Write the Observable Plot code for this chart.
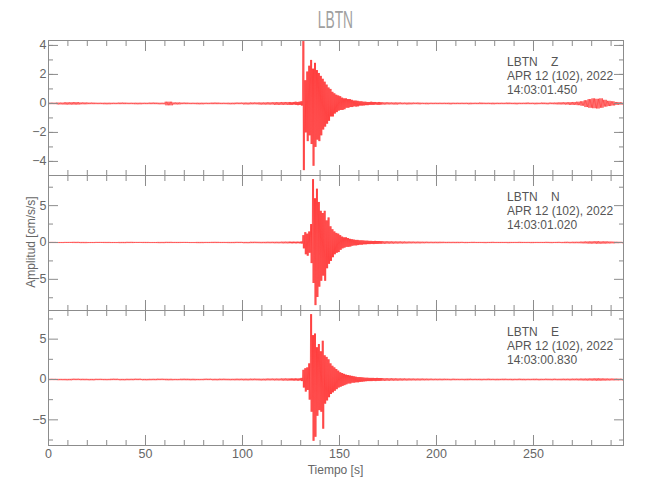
<!DOCTYPE html>
<html>
<head>
<meta charset="utf-8">
<script src="https://cdn.jsdelivr.net/npm/d3@7"></script>
<script src="https://cdn.jsdelivr.net/npm/@observablehq/plot@0.6"></script>
<style>
  body { margin: 0; background: #fff; }
  #chart { position: relative; width: 650px; height: 500px; background: #fff;
           font-family: "Liberation Sans", Arial, sans-serif; }
  .panel { position: absolute; left: 0; }
  .panel svg { overflow: visible; }
  .panel text { white-space: pre; }
  #title { position: absolute; left: 48px; width: 575px; top: 9px; text-align: center;
           font-size: 23px; line-height: 23px; color: #a0a0a0; font-weight: 300; }
  #title span { display: inline-block; transform: scaleX(0.6); }
  #xlabel { position: absolute; left: 48px; width: 575px; top: 462px; text-align: center;
            font-size: 12px; line-height: 16px; color: #666; }
  #ylabel { position: absolute; left: 31px; top: 242px; transform: translate(-50%, -50%) rotate(-90deg);
            white-space: nowrap; font-size: 12px; line-height: 14px; color: #666; }
</style>
</head>
<body>
<div id="chart">
  <div id="title"><span></span></div>
  <div id="xlabel"></div>
  <div id="ylabel"></div>
</div>
<script>
// ---------- text ----------
const title = "LBTN";
const xLabel = "Tiempo [s]";
const yLabel = "Amplitud [cm/s/s]";
const zInfo = ["LBTN    Z", "APR 12 (102), 2022", "14:03:01.450"];
const nInfo = ["LBTN    N", "APR 12 (102), 2022", "14:03:01.020"];
const eInfo = ["LBTN    E", "APR 12 (102), 2022", "14:03:00.830"];

// ---------- axes ----------
const xMax = 296.4;
const xTicks = [0, 50, 100, 150, 200, 250];
const xMinorTicks = d3.range(0, 300, 10);
const zDomain = [-4.97, 4.34];
const nDomain = [-9.23, 9.09];
const eDomain = [-8.18, 8.55];
const zTicks = [-4, -2, 0, 2, 4];
const zMinorTicks = [-4, -3, -2, -1, 0, 1, 2, 3, 4];
const neTicks = [-5, 0, 5];
const neMinorTicks = [-7.5, -2.5, 2.5, 7.5];

// ---------- time bins (s): 4 s before the event, 1 s around it, 2 s after ----------
const binStarts = [...d3.range(0, 124, 4), ...d3.range(124, 172, 1), ...d3.range(172, 296, 2)];
const traceEnd = 296;
const cyclesPerSecond = 1.5; // drawing density of the oscillation inside each bin

// ---------- per-bin peak (hi) and trough (lo) amplitudes, cm/s/s ----------
const zHi = [
  0.05,0.06,0.08,0.09,0.07,0.06,0.05,0.05,0.05,0.06,0.05,0.05,0.05,0.06,0.05,0.12,0.07,0.06,0.05,0.05,0.05,0.06,0.05,0.05,0.06,0.06,0.07,0.07,0.08,0.09,0.1,
  0.1,0.08,0.1,0.12,0.1,0.12,0.15,
  4.3,1.6,2.2,2.6,3.0,2.4,2.8,2.3,2.1,1.9,
  1.7,1.5,1.3,1.1,1.0,0.8,0.7,0.6,0.55,0.5,
  0.4,0.35,0.35,0.3,0.3,0.25,0.2,0.2,0.18,0.15,
  0.15,0.12,0.12,0.1,0.1,0.12,0.1,0.1,0.08,0.1,0.08,
  .08,.08,.07,.07,.07,.06,.06,.06,.06,.06,
  .05,.05,.05,.05,.05,.05,.05,.05,.05,.05,
  .05,.05,.05,.05,.05,.06,.05,.05,.05,.05,
  .05,.05,.06,.05,.05,.05,.05,.06,.05,.05,
  .05,.06,.05,.06,.06,.07,.08,.08,.09,.1,
  .12,.15,.22,.3,.35,.32,.35,.25,.18,.15,.1,.08
];
const zLo = [
  -0.05,-0.07,-0.08,-0.08,-0.06,-0.05,-0.05,-0.06,-0.05,-0.05,-0.05,-0.06,-0.05,-0.05,-0.06,-0.13,-0.07,-0.05,-0.05,-0.06,-0.05,-0.05,-0.05,-0.06,-0.05,-0.07,-0.06,-0.08,-0.08,-0.1,-0.1,
  -0.1,-0.1,-0.08,-0.1,-0.12,-0.1,-0.15,
  -4.6,-2.0,-2.6,-2.2,-2.8,-4.3,-3.0,-2.5,-2.6,-2.2,
  -1.8,-1.6,-1.4,-1.2,-0.9,-0.9,-0.7,-0.6,-0.5,-0.45,
  -0.45,-0.4,-0.3,-0.3,-0.25,-0.25,-0.2,-0.22,-0.2,-0.15,
  -0.15,-0.14,-0.12,-0.12,-0.1,-0.1,-0.1,-0.08,-0.1,-0.1,-0.08,
  -.08,-.07,-.07,-.08,-.06,-.06,-.07,-.06,-.05,-.06,
  -.05,-.06,-.05,-.05,-.05,-.05,-.05,-.06,-.05,-.05,
  -.05,-.05,-.06,-.05,-.05,-.05,-.05,-.05,-.06,-.05,
  -.05,-.05,-.05,-.05,-.06,-.05,-.05,-.05,-.05,-.06,
  -.05,-.05,-.06,-.05,-.06,-.07,-.07,-.08,-.1,-.1,
  -.12,-.16,-.25,-.3,-.33,-.35,-.3,-.22,-.18,-.14,-.1,-.08
];
const nHi = [
  0.08,0.07,0.08,0.09,0.08,0.07,0.08,0.08,0.07,0.08,0.09,0.08,0.08,0.07,0.08,0.09,0.08,0.08,0.07,0.08,0.08,0.09,0.08,0.08,0.09,0.08,0.1,0.09,0.1,0.1,0.12,
  0.12,0.1,0.12,0.1,0.12,0.1,0.15,
  1.0,1.4,1.2,1.5,2.5,8.6,6.0,7.3,5.5,4.3,
  4.0,4.3,3.0,3.4,2.2,1.8,1.5,1.3,1.2,1.0,
  0.8,0.7,0.7,0.6,0.5,0.45,0.4,0.35,0.35,0.3,
  0.3,0.28,0.25,0.25,0.22,0.22,0.2,0.22,0.2,0.2,0.18,
  .18,.17,.16,.15,.15,.14,.13,.13,.12,.12,
  .11,.11,.1,.1,.1,.1,.09,.09,.09,.09,
  .09,.08,.08,.09,.08,.08,.08,.08,.09,.08,
  .08,.08,.08,.08,.08,.09,.08,.08,.08,.08,
  .08,.08,.09,.08,.08,.09,.08,.1,.09,.1,
  .1,.12,.14,.15,.16,.18,.15,.16,.14,.12,.1,.09
];
const nLo = [
  -0.08,-0.08,-0.07,-0.08,-0.09,-0.08,-0.07,-0.08,-0.08,-0.09,-0.08,-0.07,-0.08,-0.08,-0.09,-0.08,-0.08,-0.07,-0.08,-0.09,-0.08,-0.08,-0.08,-0.09,-0.08,-0.1,-0.09,-0.1,-0.1,-0.11,-0.12,
  -0.1,-0.12,-0.1,-0.12,-0.1,-0.12,-0.15,
  -0.8,-1.6,-1.8,-1.4,-2.8,-5.5,-8.5,-7.4,-6.0,-5.2,
  -4.5,-5.2,-3.5,-2.9,-2.5,-2.0,-1.6,-1.4,-1.3,-1.0,
  -0.8,-0.7,-0.6,-0.6,-0.55,-0.45,-0.4,-0.4,-0.35,-0.3,
  -0.3,-0.25,-0.25,-0.22,-0.22,-0.2,-0.22,-0.2,-0.2,-0.18,-0.18,
  -.18,-.16,-.16,-.15,-.14,-.14,-.13,-.12,-.12,-.12,
  -.11,-.1,-.1,-.1,-.1,-.09,-.09,-.09,-.09,-.09,
  -.08,-.09,-.08,-.08,-.08,-.08,-.09,-.08,-.08,-.08,
  -.08,-.08,-.09,-.08,-.08,-.08,-.08,-.08,-.09,-.08,
  -.08,-.08,-.08,-.09,-.08,-.08,-.09,-.09,-.1,-.1,
  -.1,-.12,-.13,-.16,-.15,-.17,-.16,-.15,-.13,-.12,-.1,-.09
];
const eHi = [
  0.09,0.08,0.08,0.1,0.09,0.08,0.09,0.08,0.1,0.08,0.09,0.1,0.08,0.09,0.1,0.09,0.08,0.1,0.09,0.08,0.1,0.09,0.1,0.09,0.1,0.1,0.11,0.1,0.12,0.12,0.14,
  0.12,0.14,0.12,0.15,0.12,0.14,0.2,
  1.2,1.4,1.5,2.0,8.1,5.5,5.7,4.0,4.4,3.5,
  4.8,3.0,2.8,2.5,2.0,1.7,1.5,1.3,1.1,0.9,
  0.8,0.7,0.6,0.55,0.5,0.45,0.4,0.35,0.3,0.3,
  0.28,0.25,0.22,0.22,0.2,0.2,0.2,0.18,0.2,0.18,0.18,
  .17,.16,.16,.15,.14,.14,.13,.13,.12,.12,
  .12,.11,.11,.1,.1,.1,.1,.09,.1,.09,
  .09,.09,.1,.09,.09,.09,.09,.1,.09,.09,
  .09,.1,.09,.09,.09,.1,.09,.09,.09,.1,
  .09,.09,.1,.09,.1,.09,.1,.1,.1,.11,
  .11,.12,.12,.13,.14,.15,.14,.13,.12,.12,.11,.1
];
const eLo = [
  -0.08,-0.09,-0.1,-0.08,-0.09,-0.1,-0.08,-0.09,-0.08,-0.1,-0.09,-0.08,-0.1,-0.09,-0.08,-0.1,-0.09,-0.09,-0.1,-0.09,-0.08,-0.1,-0.09,-0.1,-0.1,-0.11,-0.1,-0.12,-0.11,-0.12,-0.14,
  -0.12,-0.12,-0.14,-0.12,-0.15,-0.12,-0.2,
  -1.0,-1.5,-1.3,-2.5,-4.0,-7.6,-7.1,-4.5,-3.8,-4.0,
  -6.1,-3.0,-2.6,-2.2,-1.8,-1.6,-1.4,-1.2,-1.0,-0.9,
  -0.8,-0.7,-0.6,-0.5,-0.5,-0.4,-0.4,-0.35,-0.35,-0.3,
  -0.28,-0.25,-0.22,-0.2,-0.2,-0.2,-0.18,-0.2,-0.18,-0.18,-0.16,
  -.17,-.16,-.15,-.15,-.14,-.13,-.13,-.12,-.12,-.12,
  -.11,-.11,-.1,-.1,-.1,-.1,-.09,-.1,-.09,-.09,
  -.09,-.1,-.09,-.09,-.09,-.1,-.09,-.09,-.09,-.1,
  -.09,-.09,-.09,-.1,-.09,-.09,-.1,-.09,-.09,-.09,
  -.1,-.09,-.09,-.1,-.09,-.1,-.1,-.1,-.11,-.1,
  -.11,-.12,-.13,-.13,-.14,-.15,-.14,-.13,-.12,-.11,-.11,-.1
];

// ---------- build the trace: each bin oscillates between its read peak and trough ----------
function trace(hi, lo) {
  const pts = [];
  binStarts.forEach((t0, i) => {
    const t1 = i + 1 < binStarts.length ? binStarts[i + 1] : traceEnd;
    const w = t1 - t0;
    const n = Math.max(1, Math.round(w * cyclesPerSecond));
    const step = w / n;
    for (let k = 0; k < n; ++k) {
      pts.push({t: t0 + step * (k + 0.25), a: hi[i]}, {t: t0 + step * (k + 0.75), a: lo[i]});
    }
  });
  return pts;
}

const frameColor = "#8c8c8c";
const labelColor = "#666";
const fontStack = '"Liberation Sans", Arial, sans-serif';
const blank = () => "";

function panel({hi, lo, yDomain, yTicks, yMinor, info, withX, top}) {
  const frameH = 135;
  const mb = withX ? 30 : 0;
  const marks = [
    Plot.line(trace(hi, lo), {x: "t", y: "a", stroke: "#ff0000", strokeWidth: 0.5}),
    Plot.frame({stroke: frameColor}),
  ];
  for (const anchor of ["top", "bottom"]) {
    marks.push(Plot.axisX(xTicks, {anchor, tickSize: -10, tickFormat: blank, stroke: frameColor, label: null}));
    marks.push(Plot.axisX(xMinorTicks, {anchor, tickSize: -5, tickFormat: blank, stroke: frameColor, label: null}));
  }
  for (const anchor of ["left", "right"]) {
    marks.push(Plot.axisY(yTicks, {anchor, tickSize: -10, tickFormat: blank, stroke: frameColor, label: null}));
    marks.push(Plot.axisY(yMinor, {anchor, tickSize: -5, tickFormat: blank, stroke: frameColor, label: null}));
  }
  marks.push(Plot.axisY(yTicks, {anchor: "left", tickSize: 0, tickPadding: 2, fill: labelColor, fontSize: 12.5, label: null}));
  if (withX) marks.push(Plot.axisX(xTicks, {anchor: "bottom", tickSize: 0, tickPadding: 4, fill: labelColor, fontSize: 12.5, label: null}));
  const lineDy = [21.5, 35.5, 50];
  info.forEach((s, k) => {
    marks.push(Plot.text([s], {text: d => d, frameAnchor: "top-left", dx: 458.5, dy: lineDy[k],
      textAnchor: "start", lineAnchor: "middle", fill: "#555", fontSize: 12}));
  });
  const svg = Plot.plot({
    width: 650, height: frameH + mb,
    marginLeft: 48, marginRight: 27, marginTop: 0, marginBottom: mb,
    style: {background: "transparent", overflow: "visible", fontFamily: fontStack, fontSize: "12px"},
    x: {domain: [0, xMax]},
    y: {domain: yDomain},
    marks
  });
  const div = document.createElement("div");
  div.className = "panel";
  div.style.top = top + "px";
  div.appendChild(svg);
  document.getElementById("chart").appendChild(div);
}

document.querySelector("#title span").textContent = title;
document.getElementById("xlabel").textContent = xLabel;
document.getElementById("ylabel").textContent = yLabel;

panel({hi: zHi, lo: zLo, yDomain: zDomain, yTicks: zTicks, yMinor: zMinorTicks, info: zInfo, withX: false, top: 40});
panel({hi: nHi, lo: nLo, yDomain: nDomain, yTicks: neTicks, yMinor: neMinorTicks, info: nInfo, withX: false, top: 175});
panel({hi: eHi, lo: eLo, yDomain: eDomain, yTicks: neTicks, yMinor: neMinorTicks, info: eInfo, withX: true, top: 310});
</script>
</body>
</html>
